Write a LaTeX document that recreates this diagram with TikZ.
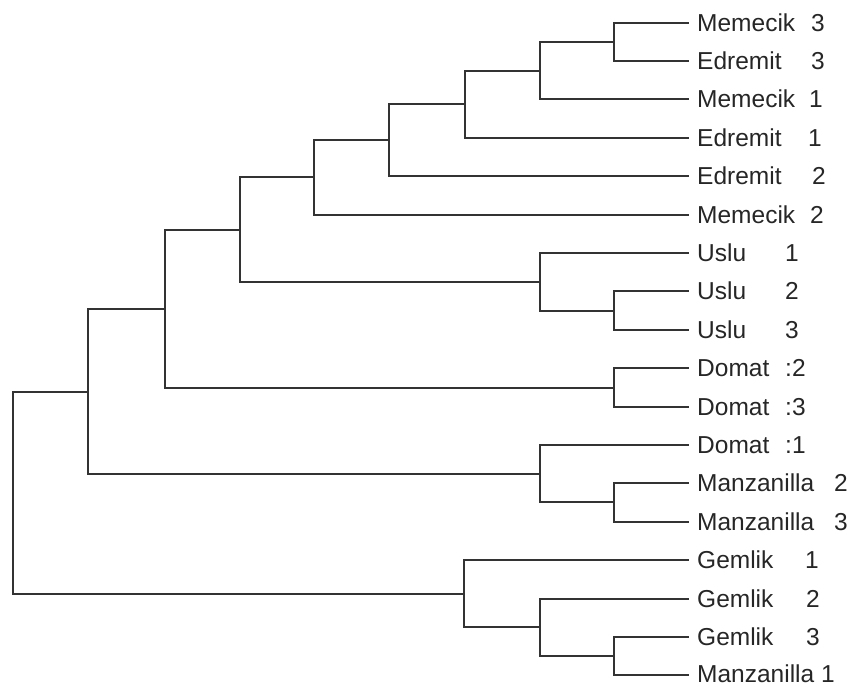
\documentclass[tikz,border=0pt]{standalone}
\usepackage{fontspec}
\setmainfont{Liberation Sans}
\begin{document}
\begin{tikzpicture}[x=1pt,y=-1pt,
  branch/.style={draw=black!80,line width=2pt,line cap=rect},
  lab/.style={inner sep=0pt,anchor=base west,text=black!85,font=\fontsize{24.5}{28}\selectfont},
  num/.style={inner sep=0pt,anchor=base,text=black!85,font=\fontsize{24.5}{28}\selectfont}]
\useasboundingbox (0,0) rectangle (852,686);
% leaf ends
\coordinate (L1) at (688,23);
\coordinate (L2) at (688,61);
\coordinate (L3) at (688,99);
\coordinate (L4) at (688,138);
\coordinate (L5) at (688,176);
\coordinate (L6) at (688,215);
\coordinate (L7) at (688,253);
\coordinate (L8) at (688,291);
\coordinate (L9) at (688,330);
\coordinate (L10) at (688,368);
\coordinate (L11) at (688,407);
\coordinate (L12) at (688,445);
\coordinate (L13) at (688,483);
\coordinate (L14) at (688,522);
\coordinate (L15) at (688,560);
\coordinate (L16) at (688,599);
\coordinate (L17) at (688,637);
\coordinate (L18) at (688,675);
% internal nodes
\coordinate (a) at (614,42);
\coordinate (b) at (540,71);
\coordinate (c) at (465,104);
\coordinate (d) at (389,140);
\coordinate (e) at (314,177);
\coordinate (u1) at (614,311);
\coordinate (u2) at (540,282);
\coordinate (f) at (240,230);
\coordinate (dm) at (614,388);
\coordinate (g) at (165,309);
\coordinate (mz) at (614,502);
\coordinate (dmz) at (540,474);
\coordinate (h) at (88,392);
\coordinate (gm1) at (614,656);
\coordinate (gm2) at (540,627);
\coordinate (gm3) at (464,594);
\coordinate (root) at (13,493);
% branches
\draw[branch] (L1) -| (a) |- (L2);
\draw[branch] (a) -| (b) |- (L3);
\draw[branch] (b) -| (c) |- (L4);
\draw[branch] (c) -| (d) |- (L5);
\draw[branch] (d) -| (e) |- (L6);
\draw[branch] (L8) -| (u1) |- (L9);
\draw[branch] (L7) -| (u2) |- (u1);
\draw[branch] (e) -| (f) |- (u2);
\draw[branch] (L10) -| (dm) |- (L11);
\draw[branch] (f) -| (g) |- (dm);
\draw[branch] (L13) -| (mz) |- (L14);
\draw[branch] (L12) -| (dmz) |- (mz);
\draw[branch] (g) -| (h) |- (dmz);
\draw[branch] (L17) -| (gm1) |- (L18);
\draw[branch] (L16) -| (gm2) |- (gm1);
\draw[branch] (L15) -| (gm3) |- (gm2);
\draw[branch] (h) -| (root) |- (gm3);
% labels
\node[lab] (t1) at (697,31.5) {Memecik};   \node[num] (n1) at (818,31.5) {3};
\node[lab] (t2) at (697,69.5) {Edremit};   \node[num] (n2) at (818,69.5) {3};
\node[lab] (t3) at (697,107.5) {Memecik};  \node[num] (n3) at (816,107.5) {1};
\node[lab] (t4) at (697,146.5) {Edremit};  \node[num] (n4) at (815,146.5) {1};
\node[lab] (t5) at (697,184.5) {Edremit};  \node[num] (n5) at (819,184.5) {2};
\node[lab] (t6) at (697,223.5) {Memecik};  \node[num] (n6) at (817,223.5) {2};
\node[lab] (t7) at (697,261.5) {Uslu};     \node[num] (n7) at (792,261.5) {1};
\node[lab] (t8) at (697,299.5) {Uslu};     \node[num] (n8) at (792,299.5) {2};
\node[lab] (t9) at (697,338.5) {Uslu};     \node[num] (n9) at (792,338.5) {3};
\node[lab] (t10) at (697,376.5) {Domat};   \node[lab] (n10) at (785,376.5) {:2};
\node[lab] (t11) at (697,415.5) {Domat};   \node[lab] (n11) at (785,415.5) {:3};
\node[lab] (t12) at (697,453.5) {Domat};   \node[lab] (n12) at (785,453.5) {:1};
\node[lab] (t13) at (697,491.5) {Manzanilla}; \node[num] (n13) at (841,491.5) {2};
\node[lab] (t14) at (697,530.5) {Manzanilla}; \node[num] (n14) at (841,530.5) {3};
\node[lab] (t15) at (697,568.5) {Gemlik};  \node[num] (n15) at (812,568.5) {1};
\node[lab] (t16) at (697,607.5) {Gemlik};  \node[num] (n16) at (813,607.5) {2};
\node[lab] (t17) at (697,645.5) {Gemlik};  \node[num] (n17) at (813,645.5) {3};
\node[lab] (t18) at (697,682) {Manzanilla}; \node[num] (n18) at (828,682) {1};
\end{tikzpicture}
\end{document}
